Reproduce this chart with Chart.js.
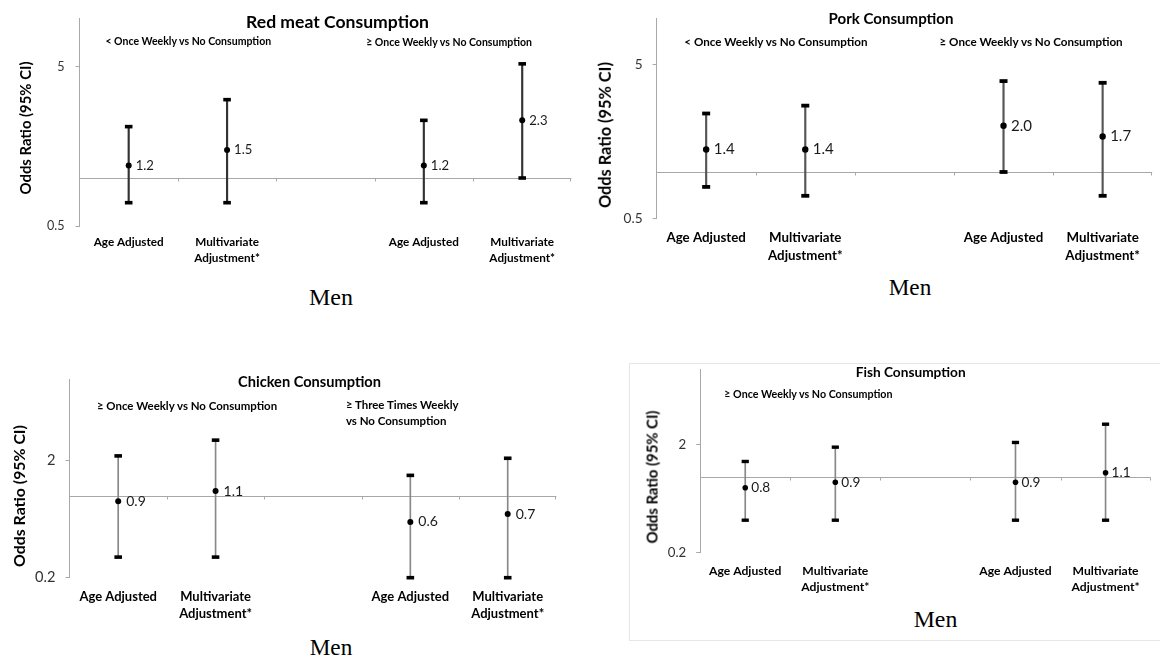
<!DOCTYPE html>
<html><head><meta charset="utf-8">
<script src="https://cdn.jsdelivr.net/npm/chart.js@4.4.0/dist/chart.umd.min.js"></script>
<style>
html,body{margin:0;padding:0;background:#fff;overflow:hidden;width:1160px;height:659px;position:relative;}
canvas{position:absolute;}
.t{position:absolute;white-space:nowrap;line-height:1;color:#000;}
.box{position:absolute;border:1px solid #e6e6e6;}
</style></head><body>
<script>
// ---------- DATA ----------
const categories = ['Age Adjusted', ['Multivariate', 'Adjustment*'], '', 'Age Adjusted', ['Multivariate', 'Adjustment*']];

const redMeatOR   = [1.2, 1.5, null, 1.2, 2.3];
const redMeatLow  = [0.70, 0.70, null, 0.70, 1.0];
const redMeatHigh = [2.1, 3.1, null, 2.3, 5.2];

const porkOR   = [1.4, 1.4, null, 2.0, 1.7];
const porkLow  = [0.80, 0.70, null, 1.0, 0.70];
const porkHigh = [2.4, 2.7, null, 3.9, 3.8];

const chickenOR   = [0.9, 1.1, null, 0.6, 0.7];
const chickenLow  = [0.30, 0.30, null, 0.20, 0.20];
const chickenHigh = [2.2, 3.0, null, 1.5, 2.1];

const fishOR   = [0.8, 0.9, null, 0.9, 1.1];
const fishLow  = [0.40, 0.40, null, 0.40, 0.40];
const fishHigh = [1.4, 1.9, null, 2.1, 3.1];

const redMeatTicks = [0.5, 5];
const porkTicks    = [0.5, 5];
const chickenTicks = [0.2, 2];
const fishTicks    = [0.2, 2];

const referenceValue = 1;
const yTitle = 'Odds Ratio (95% CI)';

// ---------- HELPERS ----------
const SANS = 'Lato';
const SERIF = '"Liberation Serif"';
const mctx = document.createElement('canvas').getContext('2d');
function fit(text, weight, family, target) {
  mctx.font = weight + ' 100px ' + family;
  return 100 * target / mctx.measureText(text).width;
}
function addText(txt, o) {
  const d = document.createElement('div');
  d.className = 't';
  d.textContent = txt;
  const fam = o.family || SANS;
  const wt = o.weight || 'bold';
  d.style.fontFamily = fam;
  d.style.fontWeight = wt;
  d.style.fontSize = (o.width ? fit(txt, wt, fam, o.width) : o.size) + 'px';
  d.style.left = o.x + 'px';
  d.style.top = o.y + 'px';
  if (o.rotate) d.style.transform = 'translate(-50%,-50%) rotate(-90deg)';
  else if (o.anchor === 'left') d.style.transform = 'translate(0,-50%)';
  else d.style.transform = 'translate(-50%,-50%)';
  d.style.zIndex = 5;
  document.body.appendChild(d);
}

const refLinePlugin = {
  id: 'refLine',
  beforeDatasetsDraw(chart, args, o) {
    const {ctx, chartArea: a, scales: {x, y}} = chart;
    const py = Math.round(y.getPixelForValue(o.value)) + 0.5;
    ctx.save();
    ctx.strokeStyle = o.color;
    ctx.lineWidth = 1;
    ctx.beginPath();
    ctx.moveTo(a.left, py);
    ctx.lineTo(a.right, py);
    const n = chart.data.labels.length;
    for (let i = 1; i <= n; i++) {
      const bx = i < n ? (x.getPixelForValue(i - 1) + x.getPixelForValue(i)) / 2 : a.right - 1;
      const rx = Math.round(bx) + 0.5;
      ctx.moveTo(rx, py);
      ctx.lineTo(rx, py + o.tick);
    }
    ctx.stroke();
    ctx.restore();
  }
};

const valueLabelPlugin = {
  id: 'valueLabels',
  afterDatasetsDraw(chart, args, o) {
    const {ctx} = chart;
    const meta = chart.getDatasetMeta(0);
    const ds = chart.data.datasets[0];
    ctx.save();
    ctx.font = o.size + 'px ' + SANS;
    ctx.fillStyle = o.color;
    ctx.textBaseline = 'middle';
    ctx.textAlign = 'left';
    meta.data.forEach((el, i) => {
      const v = ds.data[i];
      if (v == null) return;
      ctx.fillText(v.toFixed(1), el.x + o.dx, el.y + o.dy);
    });
    ctx.restore();
  }
};

function makePanel(p) {
  const cv = document.createElement('canvas');
  cv.width = p.w; cv.height = p.h;
  cv.style.left = p.x + 'px'; cv.style.top = p.y + 'px';
  document.body.appendChild(cv);
  const whisker = p.low.map((l, i) => (l == null ? null : [l, p.high[i]]));
  const xFont = fit('Age Adjusted', 'bold', SANS, p.xLabelW);
  const yFont = fit(String(p.ticks[0]), 'normal', SANS, p.yLabelW);
  const vFont = fit(p.or[0].toFixed(1), 'normal', SANS, p.valW);
  new Chart(cv, {
    type: 'bar',
    data: {
      labels: categories,
      datasets: [
        {type: 'line', data: p.or, showLine: false, pointRadius: p.dot, pointBackgroundColor: '#000',
         pointBorderWidth: 0, order: 1, clip: false},
        {type: 'line', data: p.high, showLine: false, pointStyle: 'line', pointRadius: p.capR,
         pointBorderWidth: p.capW, pointBorderColor: '#000', order: 2, clip: false},
        {type: 'line', data: p.low, showLine: false, pointStyle: 'line', pointRadius: p.capR,
         pointBorderWidth: p.capW, pointBorderColor: '#000', order: 2, clip: false},
        {type: 'bar', data: whisker, barThickness: p.wW, backgroundColor: p.wC, order: 3}
      ]
    },
    options: {
      responsive: false, animation: false, events: [],
      layout: {padding: {top: p.padTop, left: 0, right: 0, bottom: 0}},
      plugins: {
        legend: {display: false}, tooltip: {enabled: false},
        refLine: {value: referenceValue, color: '#a8a8a8', tick: 3},
        valueLabels: {size: vFont, color: '#1a1a1a', dx: p.valDx, dy: 0}
      },
      scales: {
        x: {
          type: 'category', offset: true,
          grid: {display: false, drawTicks: false}, border: {display: false},
          ticks: {autoSkip: false, maxRotation: 0, minRotation: 0, padding: p.xFirst - p.xLH / 2,
                  color: '#000', font: {family: SANS, weight: 'bold', size: xFont, lineHeight: p.xLH + 'px'}},
          afterFit: s => { s.height = p.xh; }
        },
        y: {
          type: 'logarithmic', min: p.ymin, max: p.ymax,
          afterBuildTicks: s => { s.ticks = p.ticks.map(v => ({value: v})); },
          ticks: {callback: v => String(v), padding: p.yPad, color: '#333', font: {family: SANS, size: yFont}},
          grid: {drawOnChartArea: false, tickLength: 4, color: '#a8a8a8'},
          border: {color: '#a8a8a8'},
          afterFit: s => { s.width = p.yw; }
        }
      }
    },
    plugins: [refLinePlugin, valueLabelPlugin]
  });
}

// faint frame around the fish panel
const frame = document.createElement('div');
frame.className = 'box';
Object.assign(frame.style, {left: '629px', top: '363px', width: '600px', height: '276px'});
document.body.appendChild(frame);

// ---------- PANELS ----------
// Red meat
makePanel({x: 0, y: 0, w: 579, h: 276, yw: 79.5, padTop: 15, xh: 50, ymin: 0.5, ymax: 10, ticks: redMeatTicks,
  or: redMeatOR, low: redMeatLow, high: redMeatHigh, xLabelW: 70, xLH: 16, xFirst: 16.7,
  yLabelW: 17.6, yPad: 11, valW: 18.3, valDx: 7, dot: 3, capR: 3.8, capW: 3.6, wW: 1.5, wC: '#333'});
// Pork
makePanel({x: 580, y: 0, w: 580, h: 268, yw: 76.6, padTop: 15, xh: 49.7, ymin: 0.5, ymax: 10, ticks: porkTicks,
  or: porkOR, low: porkLow, high: porkHigh, xLabelW: 79.5, xLH: 18.3, xFirst: 19.4,
  yLabelW: 19, yPad: 10, valW: 21, valDx: 7.5, dot: 3.2, capR: 4, capW: 3.8, wW: 1.5, wC: '#555'});
// Chicken
makePanel({x: 0, y: 330, w: 564, h: 298, yw: 69.5, padTop: 49, xh: 50.3, ymin: 0.2, ymax: 10, ticks: chickenTicks,
  or: chickenOR, low: chickenLow, high: chickenHigh, xLabelW: 77.6, xLH: 17.3, xFirst: 19,
  yLabelW: 20.4, yPad: 10, valW: 19.6, valDx: 8, dot: 3, capR: 3.8, capW: 3.6, wW: 1, wC: '#888'});
// Fish
makePanel({x: 580, y: 330, w: 578, h: 273, yw: 120.2, padTop: 39.3, xh: 50.3, ymin: 0.2, ymax: 10, ticks: fishTicks,
  or: fishOR, low: fishLow, high: fishHigh, xLabelW: 72.5, xLH: 16.3, xFirst: 18,
  yLabelW: 18.5, yPad: 10, valW: 19, valDx: 6, dot: 2.8, capR: 3.6, capW: 3.4, wW: 1, wC: '#888'});

// ---------- TEXT ----------
addText('Red meat Consumption', {x: 337.5, y: 21.7, width: 183});
addText('< Once Weekly vs No Consumption', {x: 105.4, y: 41, width: 166.5, anchor: 'left'});
addText('\u2265 Once Weekly vs No Consumption', {x: 366.2, y: 42.3, width: 166.5, anchor: 'left'});
addText(yTitle, {x: 25.2, y: 128.3, width: 133, rotate: true});
addText('Men', {x: 331, y: 297, width: 44, family: SERIF, weight: 'normal'});

addText('Pork Consumption', {x: 891, y: 19, width: 125});
addText('< Once Weekly vs No Consumption', {x: 684.3, y: 42.3, width: 184, anchor: 'left'});
addText('\u2265 Once Weekly vs No Consumption', {x: 939.5, y: 42, width: 184, anchor: 'left'});
addText(yTitle, {x: 605, y: 135, width: 146, rotate: true});
addText('Men', {x: 910, y: 288.3, width: 42.5, family: SERIF, weight: 'normal'});

addText('Chicken Consumption', {x: 309.5, y: 382.3, width: 143});
addText('\u2265 Once Weekly vs No Consumption', {x: 96.9, y: 406, width: 181, anchor: 'left'});
addText('\u2265 Three Times Weekly', {x: 345.9, y: 405.3, width: 113.5, anchor: 'left'});
addText('vs No Consumption', {x: 345.9, y: 420.7, width: 100.6, anchor: 'left'});
addText(yTitle, {x: 18.5, y: 496, width: 142, rotate: true});
addText('Men', {x: 331, y: 648.3, width: 42.5, family: SERIF, weight: 'normal'});

addText('Fish Consumption', {x: 910.7, y: 372.3, width: 110});
addText('\u2265 Once Weekly vs No Consumption', {x: 724.3, y: 394, width: 169, anchor: 'left'});
addText(yTitle, {x: 652.1, y: 476.7, width: 133, rotate: true});
addText('Men', {x: 935.5, y: 620, width: 43.6, family: SERIF, weight: 'normal'});
</script>
</body></html>
